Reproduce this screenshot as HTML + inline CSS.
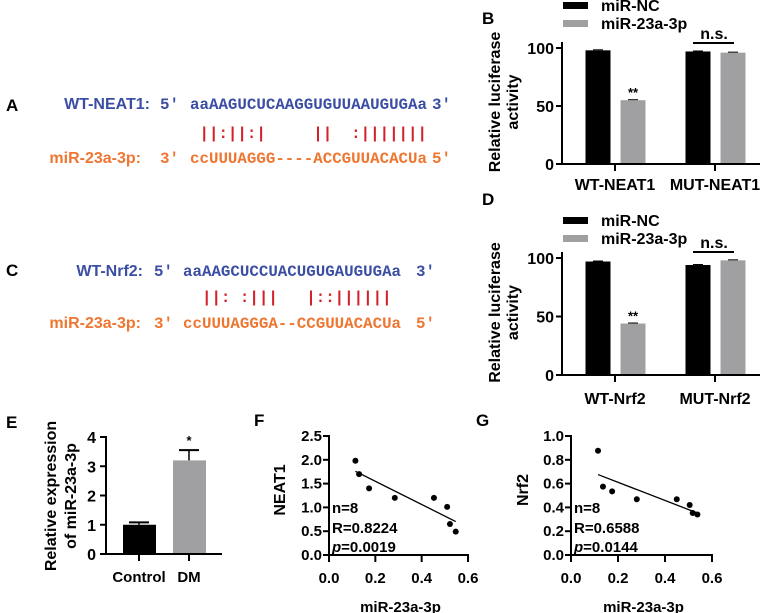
<!DOCTYPE html>
<html><head><meta charset="utf-8"><style>
body{margin:0;background:#fff;}
svg{display:block;font-family:"Liberation Sans",Arial,sans-serif;}
.b{font-weight:bold;}
.seq{font-family:"Liberation Mono",monospace;font-weight:bold;font-size:15.8px;}
</style></head><body>
<svg id="fig" width="760" height="613" viewBox="0 0 760 613" xmlns="http://www.w3.org/2000/svg">
<g class="b" font-size="17">
<text x="6" y="111">A</text>
<text x="482" y="24">B</text>
<text x="6" y="276">C</text>
<text x="482" y="205">D</text>
<text x="6" y="428">E</text>
<text x="254" y="426">F</text>
<text x="476" y="426">G</text>
</g>
<g>
<text class="b" x="150" y="109" text-anchor="end" font-size="16" fill="#3b4ea3">WT-NEAT1:</text>
<text class="seq" x="160" y="109" fill="#3b4ea3">5'</text>
<text class="seq" x="190" y="109" fill="#3b4ea3">aaAAGUCUCAAGGUGUUAAUGUGAa</text>
<text class="seq" x="432" y="109" fill="#3b4ea3">3'</text>
<text class="seq" x="190" y="138" fill="#d4202a" xml:space="preserve" style="white-space:pre"> ||:||:|     ||  :|||||||</text>
<text class="b" x="141" y="163" text-anchor="end" font-size="16" fill="#ee7631">miR-23a-3p:</text>
<text class="seq" x="160" y="163" fill="#ee7631">3'</text>
<text class="seq" x="190" y="163" fill="#ee7631">ccUUUAGGG----ACCGUUACACUa</text>
<text class="seq" x="432" y="163" fill="#ee7631">5'</text>
</g>
<g>
<text class="b" x="143" y="276" text-anchor="end" font-size="16" fill="#3b4ea3">WT-Nrf2:</text>
<text class="seq" x="154" y="276" fill="#3b4ea3">5'</text>
<text class="seq" x="183" y="276" fill="#3b4ea3">aaAAGCUCCUACUGUGAUGUGAa</text>
<text class="seq" x="416" y="276" fill="#3b4ea3">3'</text>
<text class="seq" x="183" y="302" fill="#d4202a" xml:space="preserve" style="white-space:pre">  ||: :|||   |::||||||</text>
<text class="b" x="141" y="328" text-anchor="end" font-size="16" fill="#ee7631">miR-23a-3p:</text>
<text class="seq" x="154" y="328" fill="#ee7631">3'</text>
<text class="seq" x="183" y="328" fill="#ee7631">ccUUUAGGGA--CCGUUACACUa</text>
<text class="seq" x="416" y="328" fill="#ee7631">5'</text>
</g>
</svg>
<script>
const lucCategoriesB = ["WT-NEAT1", "MUT-NEAT1"];
const lucNCB = [98, 97];
const lucMirB = [55, 96];
const lucCategoriesD = ["WT-Nrf2", "MUT-Nrf2"];
const lucNCD = [97, 94];
const lucMirD = [44, 98];
const lucTicks = [0, 50, 100];
const exprCategories = ["Control", "DM"];
const exprValues = [1.0, 3.2];
const exprErrors = [0.08, 0.35];
const exprTicks = [0, 1, 2, 3, 4];
const neatX = [0.114, 0.13, 0.173, 0.284, 0.453, 0.51, 0.522, 0.547];
const neatY = [1.98, 1.70, 1.40, 1.20, 1.20, 1.01, 0.65, 0.49];
const neatTicks = ["0.0", "0.5", "1.0", "1.5", "2.0", "2.5"];
const nrfX = [0.115, 0.136, 0.175, 0.28, 0.45, 0.505, 0.518, 0.538];
const nrfY = [0.876, 0.575, 0.535, 0.468, 0.468, 0.42, 0.353, 0.34];
const nrfTicks = ["0.0", "0.2", "0.4", "0.6", "0.8", "1.0"];
const scatterXTicks = ["0.0", "0.2", "0.4", "0.6"];

const NS = "http://www.w3.org/2000/svg";
const svg = document.getElementById("fig");
function mk(tag, attrs, parent, text) {
  const e = document.createElementNS(NS, tag);
  for (const k in attrs) e.setAttribute(k, attrs[k]);
  if (text !== undefined) e.textContent = text;
  (parent || svg).appendChild(e);
  return e;
}
function line(g, x1, y1, x2, y2, w) { return mk("line", {x1, y1, x2, y2, stroke: "#000", "stroke-width": w || 2}, g); }

function lucPanel(name, cats, nc, mir, y0, y100, legY, nsY, labY) {
  const g = mk("g", {});
  
  
  const ax = 562;
  const ys = v => y0 - (v / 100) * (y0 - y100);
  const cx = i => 615 + i * 100;
  // y title
  const t1 = mk("text", {x: 0, y: 0, "font-size": 16, "text-anchor": "middle", class: "b", transform: `translate(500,${(y0 + y100) / 2 - 4}) rotate(-90)`}, g, "Relative luciferase");
  
  
  const t2 = mk("text", {x: 0, y: 0, "font-size": 16, "text-anchor": "middle", class: "b", transform: `translate(518,${(y0 + y100) / 2 - 4}) rotate(-90)`}, g, "activity");
  
  
  lucTicks.forEach(v => {
    line(g, ax - 6, ys(v), ax, ys(v));
    const tl = mk("text", {x: ax - 8, y: ys(v) + 6, "font-size": 16, "text-anchor": "end", class: "b"}, g, String(v));
    
    
  });
  cats.forEach((c, i) => {
    const bw = 25;
    const b1 = mk("rect", {x: cx(i) - 17 - bw / 2, y: ys(nc[i]), width: bw, height: y0 - ys(nc[i]), fill: "#000"}, g);
    
    
    const b2 = mk("rect", {x: cx(i) + 18 - bw / 2, y: ys(mir[i]), width: bw, height: y0 - ys(mir[i]), fill: "#a0a0a2"}, g);
    
    
    line(g, cx(i) - 22, ys(nc[i]) - 0.5, cx(i) - 12, ys(nc[i]) - 0.5, 1);
    line(g, cx(i) + 13, ys(mir[i]) - 0.5, cx(i) + 23, ys(mir[i]) - 0.5, 1);
    line(g, cx(i), y0, cx(i), y0 + 7);
    const xl = mk("text", {x: cx(i), y: labY, "font-size": 16, "text-anchor": "middle", class: "b"}, g, c);
    
    
  });
  const st = mk("text", {x: cx(0) + 18, y: ys(mir[0]) - 3, "font-size": 13, "text-anchor": "middle", class: "b"}, g, "**");
  
  
  line(g, ax, y100 - 6, ax, y0 + 1);
  line(g, ax - 1, y0, 760, y0);
  // legend
  const l1 = mk("rect", {x: 563, y: legY, width: 25, height: 7, fill: "#000"}, g);
  
  
  const lt1 = mk("text", {x: 601, y: legY + 9, "font-size": 16, class: "b"}, g, "miR-NC");
  
  
  const l2 = mk("rect", {x: 563, y: legY + 18, width: 25, height: 7, fill: "#a0a0a2"}, g);
  
  
  const lt2 = mk("text", {x: 601, y: legY + 27, "font-size": 16, class: "b"}, g, "miR-23a-3p");
  
  
  const ns = mk("text", {x: 714, y: nsY - 4, "font-size": 16, "text-anchor": "middle", class: "b"}, g, "n.s.");
  
  
  line(g, 693, nsY, 734, nsY);
}
lucPanel("panel-b-chart", lucCategoriesB, lucNCB, lucMirB, 164, 48, 2, 43, 190);
lucPanel("panel-d-chart", lucCategoriesD, lucNCD, lucMirD, 375, 258, 217, 252, 404);

// Panel E
(function () {
  const g = mk("g", {});
  
  
  const ax = 106, y0 = 554, yTop = 437;
  const ys = v => y0 - v / 4 * (y0 - yTop);
  const cx = i => 139 + i * 50;
  const t1 = mk("text", {"font-size": 16, "text-anchor": "middle", class: "b", transform: `translate(56,${496}) rotate(-90)`}, g, "Relative expression");
  
  
  const t2 = mk("text", {"font-size": 16, "text-anchor": "middle", class: "b", transform: `translate(76,${496}) rotate(-90)`}, g, "of miR-23a-3p");
  
  
  exprTicks.forEach(v => {
    line(g, ax - 6, ys(v), ax, ys(v));
    const tl = mk("text", {x: ax - 10, y: ys(v) + 6, "font-size": 16, "text-anchor": "end", class: "b"}, g, String(v));
    
    
  });
  exprCategories.forEach((c, i) => {
    const top = ys(exprValues[i] + exprErrors[i]);
    line(g, cx(i), ys(exprValues[i]), cx(i), top, 1.5);
    line(g, cx(i) - 10, top, cx(i) + 10, top, 2);
    const b = mk("rect", {x: cx(i) - 16, y: ys(exprValues[i]), width: 33, height: y0 - ys(exprValues[i]), fill: i ? "#a0a0a2" : "#000"}, g);
    
    
    line(g, cx(i), y0, cx(i), y0 + 7);
    const xl = mk("text", {x: cx(i), y: 582, "font-size": 15, "text-anchor": "middle", class: "b"}, g, c);
    
    
  });
  const st = mk("text", {x: cx(1), y: ys(exprValues[1] + exprErrors[1]) - 5, "font-size": 13, "text-anchor": "middle", class: "b"}, g, "*");
  
  
  line(g, ax, yTop - 1, ax, y0 + 1);
  line(g, ax - 1, y0, 222, y0);
})();

function scatterPanel(name, xs, ys_, ticks, ymax, ax, x6, ylabel, ylabX, stats) {
  const g = mk("g", {});
  
  
  const y0 = 555, yTop = 436;
  const sx = v => ax + v / 0.6 * (x6 - ax);
  const sy = v => y0 - v / ymax * (y0 - yTop);
  const yl = mk("text", {"font-size": 16, "text-anchor": "middle", class: "b", transform: `translate(${ylabX},490) rotate(-90)`}, g, ylabel);
  
  
  ticks.forEach(t => {
    const v = parseFloat(t);
    line(g, ax - 6, sy(v), ax, sy(v));
    const tl = mk("text", {x: ax - 7, y: sy(v) + 5, "font-size": 15, "text-anchor": "end", class: "b"}, g, t);
    
    
  });
  scatterXTicks.forEach(t => {
    const v = parseFloat(t);
    line(g, sx(v), y0, sx(v), y0 + 7);
    const tl = mk("text", {x: sx(v), y: 583, "font-size": 15, "text-anchor": "middle", class: "b"}, g, t);
    
    
  });
  const xt = mk("text", {x: (ax + x6) / 2 + 2, y: 612, "font-size": 15, "text-anchor": "middle", class: "b"}, g, "miR-23a-3p");
  
  
  line(g, ax, yTop - 1, ax, y0 + 1);
  line(g, ax - 1, y0, x6 + 1, y0);
  // regression
  const n = xs.length;
  const mx = xs.reduce((a, b) => a + b, 0) / n, my = ys_.reduce((a, b) => a + b, 0) / n;
  let sxy = 0, sxx = 0;
  for (let i = 0; i < n; i++) { sxy += (xs[i] - mx) * (ys_[i] - my); sxx += (xs[i] - mx) ** 2; }
  const m = sxy / sxx, c = my - m * mx;
  const xa = Math.min(...xs), xb = Math.max(...xs);
  const rl = mk("line", {x1: sx(xa), y1: sy(m * xa + c), x2: sx(xb), y2: sy(m * xb + c), stroke: "#000", "stroke-width": 1.3}, g);
  
  
  xs.forEach((x, i) => {
    const p = mk("circle", {cx: sx(x), cy: sy(ys_[i]), r: 3, fill: "#000"}, g);
    
    
  });
  const s1 = mk("text", {x: ax + 3, y: 513, "font-size": 15, class: "b"}, g, "n=8");
  
  
  const s2 = mk("text", {x: ax + 3, y: 533, "font-size": 15, class: "b"}, g, "R=" + stats[0]);
  
  
  const s3 = mk("text", {x: ax + 3, y: 552, "font-size": 15, class: "b"}, g);
  
  
  mk("tspan", {"font-style": "italic"}, s3, "p");
  mk("tspan", {}, s3, "=" + stats[1]);
}
scatterPanel("panel-f-chart", neatX, neatY, neatTicks, 2.5, 329, 468, "NEAT1", 285, ["0.8224", "0.0019"]);
scatterPanel("panel-g-chart", nrfX, nrfY, nrfTicks, 1.0, 571, 712, "Nrf2", 528, ["0.6588", "0.0144"]);
</script>
</body></html>
